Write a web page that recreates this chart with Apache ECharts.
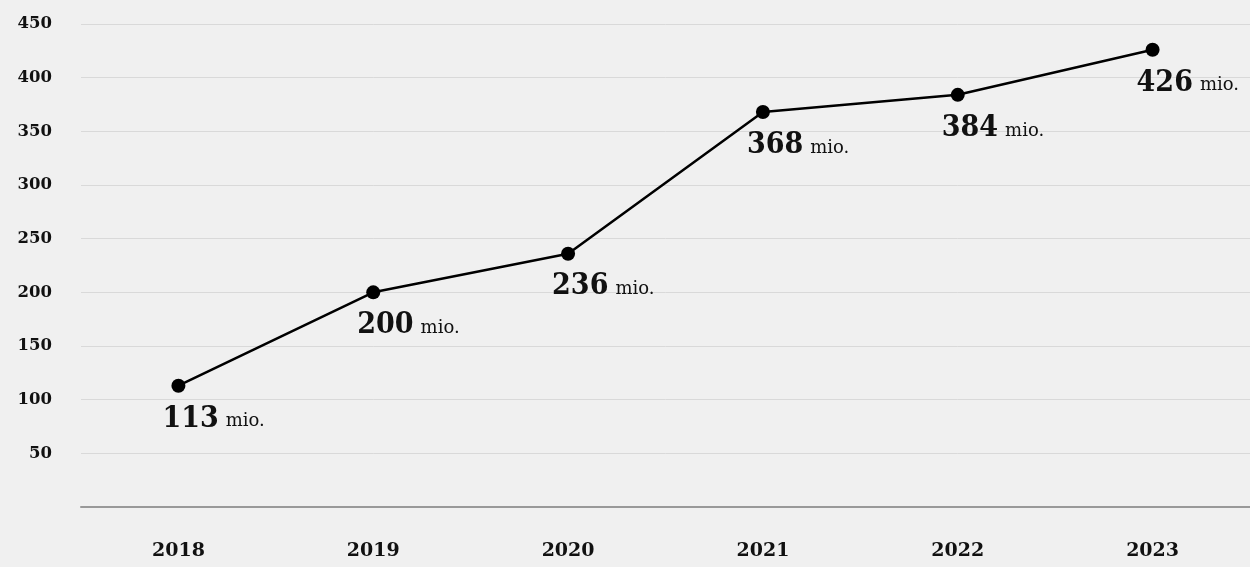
<!DOCTYPE html>
<html><head><meta charset="utf-8">
<script src="https://cdn.jsdelivr.net/npm/echarts@6/dist/echarts.min.js"></script>
<style>html,body{margin:0;padding:0;background:#f0f0f0}#c{width:1250px;height:567px}</style>
</head><body><div id="c"></div>
<script>
const years = ['2018','2019','2020','2021','2022','2023'];
const values = [113, 200, 236, 368, 384, 426];
const unit = 'mio.';
const chart = echarts.init(document.getElementById('c'));
chart.setOption({
  backgroundColor: '#f0f0f0',
  animation: false,
  grid: {left: 81, width: 1174, top: 24, bottom: 60},
  xAxis: {
    type: 'category', data: years, boundaryGap: true,
    axisLine: {lineStyle: {color: '#999', width: 2}},
    axisTick: {show: false},
    axisLabel: {margin: 35, color: '#111', fontFamily: 'DejaVu Serif', fontWeight: 'bold', fontSize: 19}
  },
  yAxis: {
    type: 'value', min: 0, max: 450, interval: 50,
    axisLine: {show: false}, axisTick: {show: false},
    splitLine: {lineStyle: {color: '#d9d9d9', width: 1}},
    axisLabel: {margin: 29, color: '#111', fontFamily: 'DejaVu Serif', fontWeight: 'bold', fontSize: 16.5,
      formatter: v => v === 0 ? '' : v}
  },
  series: [{
    type: 'line', data: values,
    lineStyle: {color: '#000', width: 2.5},
    itemStyle: {color: '#000'},
    symbol: 'circle', symbolSize: 14,
    label: {
      show: true, position: 'bottom', align: 'left', offset: [-16, 6],
      formatter: p => '{n|' + p.value + '}{u|' + unit + '}',
      rich: {
        n: {fontFamily: 'DejaVu Serif Condensed, DejaVu Serif', fontWeight: 'bold', fontSize: 30, color: '#111', verticalAlign: 'bottom'},
        u: {fontFamily: 'DejaVu Serif', fontSize: 18, color: '#111', verticalAlign: 'bottom', padding: [0,0,3,7]}
      }
    }
  }]
});
</script></body></html>
